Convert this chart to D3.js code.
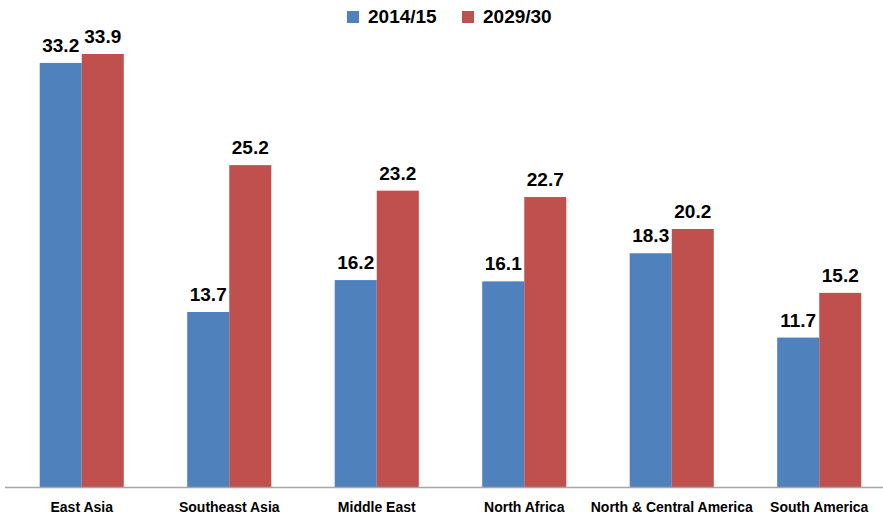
<!DOCTYPE html>
<html>
<head>
<meta charset="utf-8">
<script src="https://cdn.jsdelivr.net/npm/d3@7"></script>
<style>
  html, body { margin: 0; padding: 0; background: #ffffff; }
  svg { display: block; font-family: "Liberation Sans", Arial, sans-serif; }
</style>
</head>
<body>
<svg id="chart"></svg>
<script>
const regions = ["East Asia", "Southeast Asia", "Middle East", "North Africa", "North & Central America", "South America"];
const seriesNames = ["2014/15", "2029/30"];
const values2014 = [33.2, 13.7, 16.2, 16.1, 18.3, 11.7];
const values2029 = [33.9, 25.2, 23.2, 22.7, 20.2, 15.2];
const colors = ["#4F81BD", "#C0504D"];

const width = 883, height = 520;
const baseY = 487;

const svg = d3.select("#chart")
    .attr("width", width)
    .attr("height", height);

const data = regions.map((r, i) => ({ region: r, vals: [values2014[i], values2029[i]] }));

// bandas por region
const x0 = d3.scaleBand()
    .domain(regions)
    .range([8, 893])
    .padding(0);

const groupW = x0.bandwidth() * 0.57;
const x1 = d3.scaleBand()
    .domain(seriesNames)
    .range([0, groupW])
    .padding(0);

const y = d3.scaleLinear()
    .domain([0, 33.9])
    .range([baseY, 54]);

const groups = svg.selectAll(".group")
    .data(data)
    .enter().append("g")
    .attr("class", "group")
    .attr("transform", d => `translate(${x0(d.region) + (x0.bandwidth() - groupW) / 2},0)`);

groups.selectAll("rect")
    .data(d => d.vals.map((v, k) => ({ key: seriesNames[k], value: v, k })))
    .enter().append("rect")
    .attr("x", d => x1(d.key))
    .attr("y", d => y(d.value))
    .attr("width", x1.bandwidth())
    .attr("height", d => baseY - y(d.value))
    .style("fill", d => colors[d.k]);

groups.selectAll(".lbl")
    .data(d => d.vals.map((v, k) => ({ key: seriesNames[k], value: v, k })))
    .enter().append("text")
    .attr("class", "lbl")
    .attr("x", d => x1(d.key) + x1.bandwidth() / 2)
    .attr("y", d => y(d.value) - 11)
    .attr("text-anchor", "middle")
    .style("font-size", "19px")
    .style("font-weight", "bold")
    .style("fill", "#000")
    .text(d => d.value.toFixed(1));

// eje x
const xAxis = d3.axisBottom(x0).tickSize(0).tickPadding(15);
const axisG = svg.append("g")
    .attr("transform", `translate(0,${baseY})`)
    .call(xAxis);
axisG.select(".domain").remove();
axisG.append("line")
    .attr("x1", 5).attr("x2", 883)
    .attr("y1", 0.5).attr("y2", 0.5)
    .style("stroke", "#A6A6A6")
    .style("stroke-width", 1.5);
axisG.selectAll(".tick text")
    .style("font-family", "Liberation Sans, Arial, sans-serif")
    .style("font-size", "14px")
    .style("font-weight", "bold")
    .style("fill", "#000");

// leyenda
const legend = svg.append("g");
const legendPos = [347, 462];
seriesNames.forEach((name, i) => {
    legend.append("rect")
        .attr("x", legendPos[i]).attr("y", 11)
        .attr("width", 12).attr("height", 12)
        .style("fill", colors[i]);
    legend.append("text")
        .attr("x", legendPos[i] + 21).attr("y", 23)
        .style("font-size", "19px")
        .style("font-weight", "bold")
        .text(name);
});
</script>
</body>
</html>
